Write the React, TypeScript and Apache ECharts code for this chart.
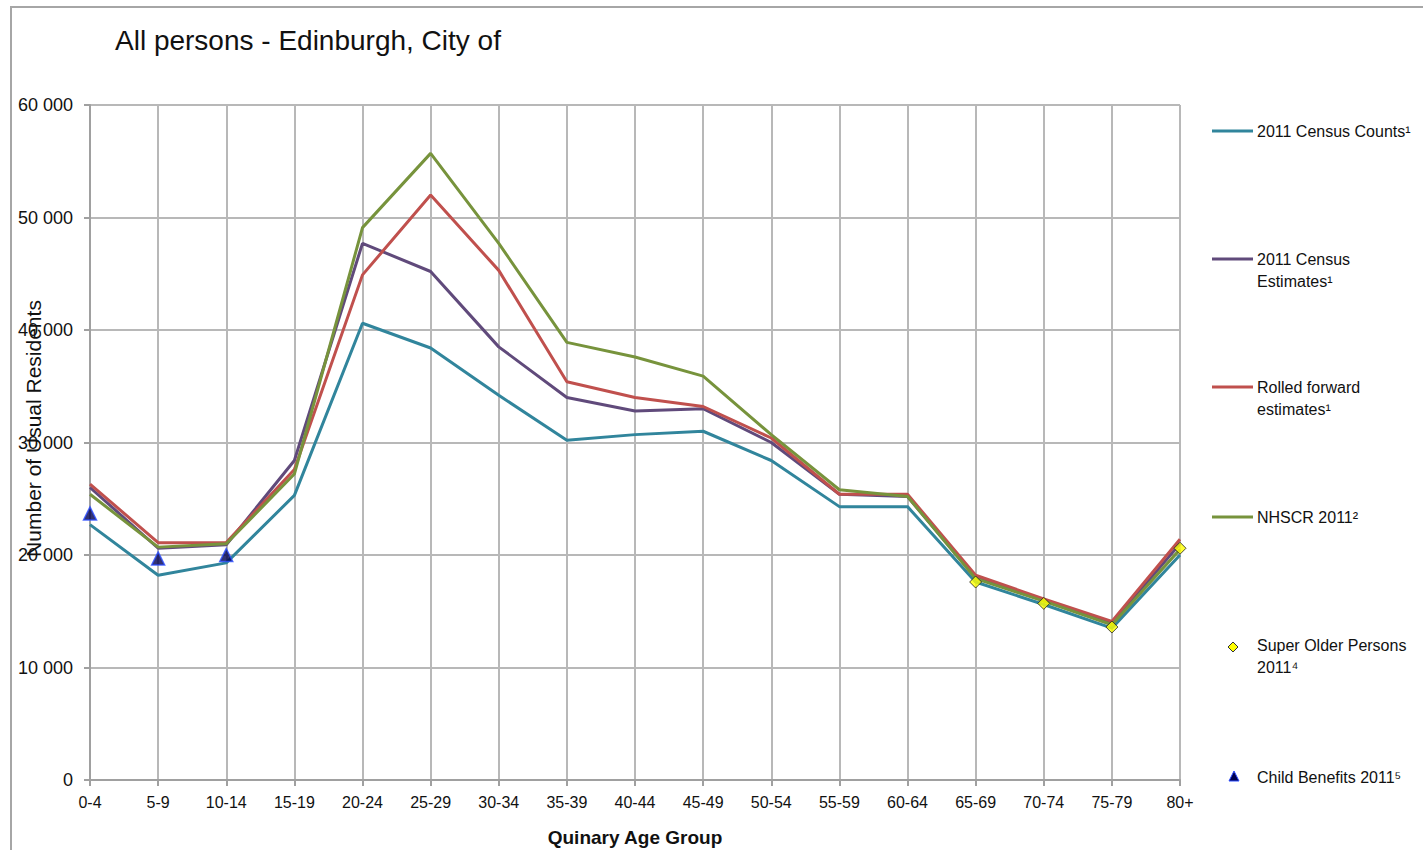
import React, { useEffect, useRef } from "react";
import * as echarts from "echarts";

const ageGroups = ["0-4","5-9","10-14","15-19","20-24","25-29","30-34","35-39","40-44","45-49","50-54","55-59","60-64","65-69","70-74","75-79","80+"];
const censusCounts = [22700,18200,19300,25300,40600,38400,34200,30200,30700,31000,28400,24300,24300,17600,15600,13500,20000];
const censusEstimates = [26000,20600,20900,28400,47700,45200,38500,34000,32800,33000,30000,25400,25200,18000,16000,13900,21000];
const rolledForward = [26300,21100,21100,27600,44900,52000,45300,35400,34000,33200,30400,25400,25400,18200,16100,14100,21400];
const nhscr = [25400,20700,21000,27200,49100,55700,47700,38900,37600,35900,30700,25800,25200,17900,15900,13800,20500];
const superOlder: (number | string)[] = ["-","-","-","-","-","-","-","-","-","-","-","-","-",17600,15700,13600,20600];
const childBenefits: (number | string)[] = [23700,19700,20000,"-","-","-","-","-","-","-","-","-","-","-","-","-","-"];

const seriesNames = [
  "2011 Census Counts¹",
  "2011 Census Estimates¹",
  "Rolled forward estimates¹",
  "NHSCR 2011²",
  "Super Older Persons 2011⁴",
  "Child Benefits 2011⁵",
];
const colors = ["#31859c", "#604a7b", "#c0504d", "#77933c"];

export default function App() {
  const ref = useRef<HTMLDivElement>(null);
  useEffect(() => {
    if (!ref.current) return;
    const chart = echarts.init(ref.current, undefined, { renderer: "svg" });
    const ff = "Liberation Sans, Arial, sans-serif";
    const legendText = (x: number, y: number, text: string) => ({
      type: "text",
      x,
      y,
      style: { text, fill: "#111", font: `16px ${ff}`, verticalAlign: "middle" },
    });
    const legendLine = (y: number, color: string) => ({
      type: "line",
      shape: { x1: 1212, y1: y, x2: 1253, y2: y },
      style: { stroke: color, lineWidth: 3 },
    });
    chart.setOption({
      animation: false,
      backgroundColor: "#fff",
      title: {
        text: "All persons - Edinburgh, City of",
        left: 110,
        top: 21,
        textStyle: { fontFamily: ff, fontSize: 28, fontWeight: "normal", color: "#111" },
      },
      grid: { left: 90, right: 243, top: 105, bottom: 70, containLabel: false, outerBoundsMode: "none" },
      xAxis: {
        type: "category",
        data: ageGroups,
        boundaryGap: false,
        name: "Quinary Age Group",
        nameLocation: "middle",
        nameGap: 48,
        nameMoveOverlap: false,
        nameTextStyle: { fontFamily: ff, fontSize: 19, fontWeight: "bold", color: "#111" },
        axisLine: { lineStyle: { color: "#a0a0a0", width: 2 } },
        axisTick: { show: true, length: 6, inside: false, lineStyle: { color: "#a0a0a0", width: 2 } },
        axisLabel: { fontFamily: ff, fontSize: 16, color: "#111", margin: 14, interval: 0 },
        splitLine: { show: true, lineStyle: { color: "#b8b8b8", width: 2 } },
      },
      yAxis: {
        type: "value",
        min: 0,
        max: 60000,
        interval: 10000,
        name: "Number of Usual Residents",
        nameLocation: "middle",
        nameGap: 46,
        nameMoveOverlap: false,
        nameTextStyle: { fontFamily: ff, fontSize: 21, color: "#111", padding: [0, 0, 0, 28] },
        axisLine: { show: true, lineStyle: { color: "#a0a0a0", width: 2 } },
        axisTick: { show: true, length: 6, lineStyle: { color: "#a0a0a0", width: 2 } },
        axisLabel: {
          fontFamily: ff,
          fontSize: 18,
          color: "#111",
          margin: 17,
          formatter: (v: number) => String(v).replace(/\B(?=(\d{3})+(?!\d))/g, " "),
        },
        splitLine: { show: true, lineStyle: { color: "#b8b8b8", width: 2 } },
      },
      series: [
        { name: seriesNames[0], type: "line", data: censusCounts, symbol: "none", lineStyle: { color: colors[0], width: 3 }, itemStyle: { color: colors[0] } },
        { name: seriesNames[1], type: "line", data: censusEstimates, symbol: "none", lineStyle: { color: colors[1], width: 3 }, itemStyle: { color: colors[1] } },
        { name: seriesNames[2], type: "line", data: rolledForward, symbol: "none", lineStyle: { color: colors[2], width: 3 }, itemStyle: { color: colors[2] } },
        { name: seriesNames[3], type: "line", data: nhscr, symbol: "none", lineStyle: { color: colors[3], width: 3 }, itemStyle: { color: colors[3] } },
        { name: seriesNames[4], type: "scatter", data: superOlder, symbol: "diamond", symbolSize: 12, itemStyle: { color: "#ffff00", borderColor: "#222", borderWidth: 1 }, z: 5 },
        { name: seriesNames[5], type: "scatter", data: childBenefits, symbol: "triangle", symbolSize: 13, itemStyle: { color: "#000050", borderColor: "#2b4cff", borderWidth: 1.5 }, z: 5 },
      ],
      graphic: [
        { type: "rect", shape: { x: 11, y: 7, width: 1440, height: 900 }, style: { fill: "none", stroke: "#a6a6a6", lineWidth: 2 }, silent: true, z: -1 },
        legendLine(131, colors[0]),
        legendText(1257, 131, "2011 Census Counts¹"),
        legendLine(259, colors[1]),
        legendText(1257, 259, "2011 Census"),
        legendText(1257, 281, "Estimates¹"),
        legendLine(387, colors[2]),
        legendText(1257, 387, "Rolled forward"),
        legendText(1257, 409, "estimates¹"),
        legendLine(517, colors[3]),
        legendText(1257, 517, "NHSCR 2011²"),
        { type: "polygon", shape: { points: [[1233, 642], [1238, 647], [1233, 652], [1228, 647]] }, style: { fill: "#ffff00", stroke: "#333", lineWidth: 1 } },
        legendText(1257, 645, "Super Older Persons"),
        legendText(1257, 667, "2011⁴"),
        { type: "polygon", shape: { points: [[1234, 771], [1239, 781], [1229, 781]] }, style: { fill: "#000050", stroke: "#2b4cff", lineWidth: 1 } },
        legendText(1257, 777, "Child Benefits 2011⁵"),
      ],
    });
    return () => chart.dispose();
  }, []);
  return <div ref={ref} style={{ position: "absolute", left: 0, top: 0, width: 1423, height: 850 }} />;
}
